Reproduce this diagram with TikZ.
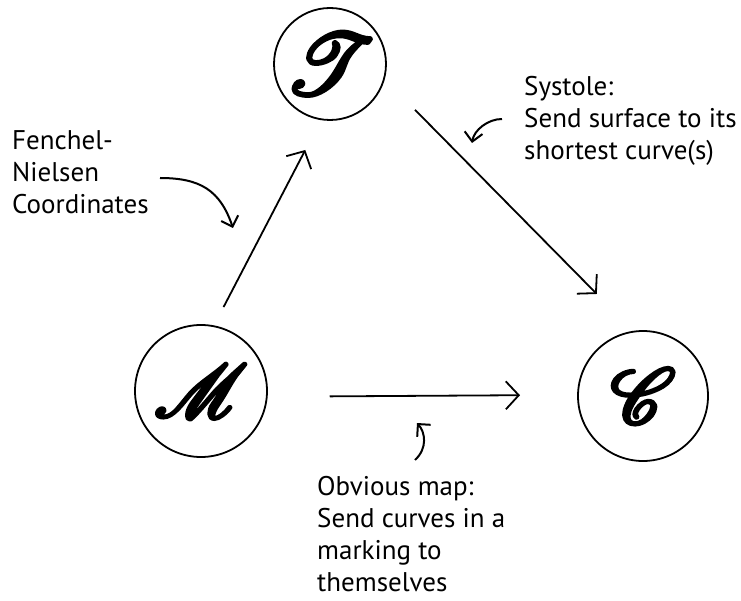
\documentclass[tikz,border=0pt]{standalone}
\usepackage{fontspec}
\setmainfont{PT Sans}
\usepackage{mathrsfs}
\usepackage{graphicx}
\usetikzlibrary{arrows.meta}
\newcommand{\brushletter}[2][7.5]{\scalebox{#1}{%
  \special{pdf:literal direct 2 Tr 0.45 w 1 j}$\mathscr{#2}$\special{pdf:literal direct 0 Tr}}}
\tikzset{
  obj/.style={circle, draw, line width=1.8pt, inner sep=0pt, outer sep=0pt, minimum size=#1},
  mainarrow/.style={line width=1.8pt, -{Straight Barb[length=13pt,width=28pt]}},
  curlyarrow/.style={line width=2pt, -{Straight Barb[length=9pt,width=18pt]}},
  lbl/.style={align=left, anchor=north west, inner sep=0pt, font=\fontsize{27}{32}\selectfont}
}
\begin{document}
\begin{tikzpicture}[x=1pt,y=1pt]
\useasboundingbox (0,0) rectangle (741,-601);
% objects
\node[obj=112pt] (T) at (330,-64) {\brushletter[8.6]{T}};
\node[obj=132pt] (M) at (201,-391) {\brushletter[7.5]{M}};
\node[obj=130pt] (C) at (643,-396) {\brushletter[7.8]{C}};
% main arrows
\draw[mainarrow, shorten <=21.6pt, shorten >=34.6pt] (M.79.5) -- (T.261);
\draw[mainarrow, shorten <=44pt, shorten >=52.9pt] (T.345) -- (C.98);
\draw[mainarrow, shorten <=63pt, shorten >=58pt] (M.355) -- (C.179);
% labels
\node[lbl] (fn) at (12,-130) {Fenchel-\\Nielsen\\Coordinates};
\node[lbl] (sy) at (524,-76) {Systole:\\Send surface to its\\shortest curve(s)};
\node[lbl] (ob) at (317,-476) {Obvious map:\\Send curves in a\\marking to\\themselves};
% curly pointers
\coordinate (fnA) at (160,-178);
\coordinate (fnB) at (233,-228);
\draw[curlyarrow] (fnA) .. controls (200,-178) and (220,-190) .. (fnB);
\coordinate (syA) at (502,-119);
\coordinate (syB) at (472,-143);
\draw[curlyarrow] (syA) .. controls (488,-119) and (474,-130) .. (syB);
\coordinate (obA) at (415,-460);
\coordinate (obB) at (417,-423);
\draw[curlyarrow] (obA) .. controls (428,-448) and (425,-432) .. (obB);
\end{tikzpicture}
\end{document}
